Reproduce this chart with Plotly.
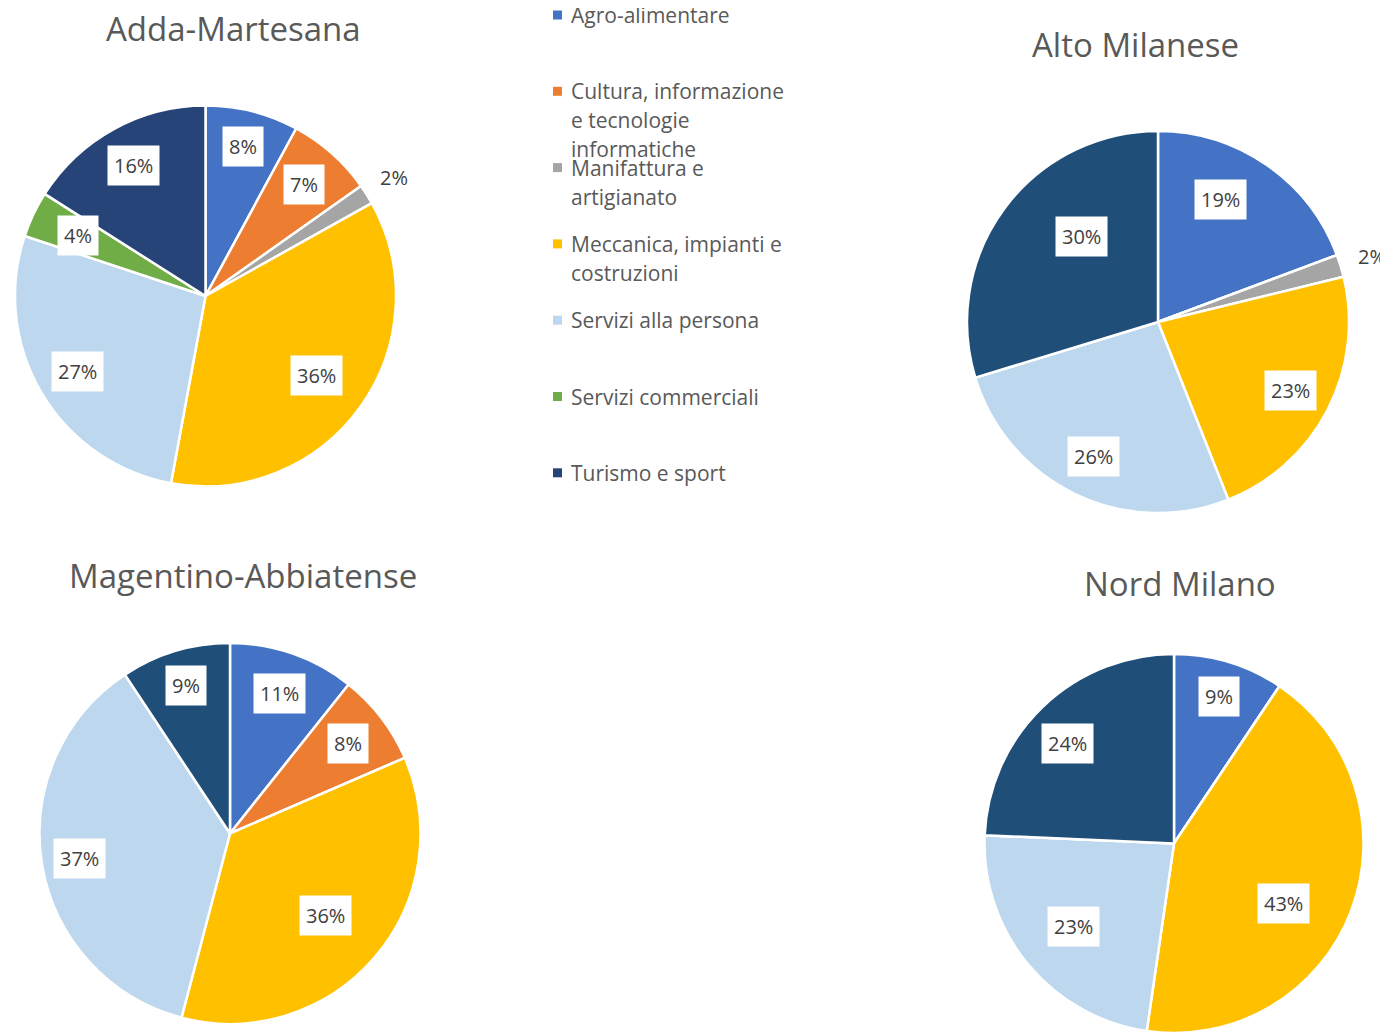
import math

import plotly.graph_objects as go

# the page body has an 8px margin; the figure is sized to fit inside the window
OFF = 8
W, H = 1388 - OFF, 1033 - OFF
FONT = "Open Sans, Noto Sans, sans-serif"
TEXT = "#595959"
LABEL = "#404040"

SECTORS = [
    "Agro-alimentare",
    "Cultura, informazione e tecnologie informatiche",
    "Manifattura e artigianato",
    "Meccanica, impianti e costruzioni",
    "Servizi alla persona",
    "Servizi commerciali",
    "Turismo e sport",
]
LEGEND_LINES = [
    ["Agro-alimentare"],
    ["Cultura, informazione", "e tecnologie", "informatiche"],
    ["Manifattura e", "artigianato"],
    ["Meccanica, impianti e", "costruzioni"],
    ["Servizi alla persona"],
    ["Servizi commerciali"],
    ["Turismo e sport"],
]
COLORS = ["#4472C4", "#ED7D31", "#A5A5A5", "#FFC000", "#BDD7EE", "#70AD47", "#264478"]
COLORS_DARK = ["#4472C4", "#ED7D31", "#A5A5A5", "#FFC000", "#BDD7EE", "#70AD47", "#1F4E79"]

# shares (%) per area, same order as SECTORS
ADDA = [7.9, 7.3, 1.7, 36.0, 27.2, 3.9, 16.0]
ALTO = [19.3, 0, 1.9, 22.8, 26.3, 0, 29.7]
MAGENTINO = [10.7, 7.8, 0, 35.6, 36.6, 0, 9.3]
NORD = [9.4, 0, 0, 42.9, 23.4, 0, 24.3]

# name, values, colors, pie centre (px), radius (px), title centre (px)
PIES = [
    ("Adda-Martesana", ADDA, COLORS, (205.5, 296), 190.5, (233, 28)),
    ("Alto Milanese", ALTO, COLORS_DARK, (1158, 322), 191, (1135, 44)),
    ("Magentino-Abbiatense", MAGENTINO, COLORS_DARK, (230, 833.5), 190.5, (243, 575)),
    ("Nord Milano", NORD, COLORS_DARK, (1174, 843.5), 189.5, (1180, 583)),
]

# label placement (fraction of radius, angle shift in degrees), best-fit style
LABEL_PLACE = {
    ("Adda-Martesana", "Agro-alimentare"): (0.81, 0),
    ("Adda-Martesana", "Meccanica, impianti e costruzioni"): (0.72, 0),
    ("Adda-Martesana", "Servizi commerciali"): (0.74, 0),
    ("Alto Milanese", "Agro-alimentare"): (0.72, -7.7),
    ("Alto Milanese", "Turismo e sport"): (0.60, 11.7),
    ("Magentino-Abbiatense", "Meccanica, impianti e costruzioni"): (0.66, 0),
    ("Magentino-Abbiatense", "Servizi alla persona"): (0.80, 0),
    ("Magentino-Abbiatense", "Turismo e sport"): (0.81, 0),
    ("Nord Milano", "Agro-alimentare"): (0.81, 0),
    ("Nord Milano", "Meccanica, impianti e costruzioni"): (0.66, 7.7),
    ("Nord Milano", "Servizi alla persona"): (0.69, 0),
    ("Nord Milano", "Turismo e sport"): (0.77, -3),
}


def px_x(x):
    return min(max((x - OFF) / W, 0), 1)


def px_y(y):
    return min(max(1 - (y - OFF) / H, 0), 1)


fig = go.Figure()
annotations = []

for name, values, colors, (cx, cy), r, (tx, ty) in PIES:
    fig.add_trace(
        go.Pie(
            labels=SECTORS,
            values=values,
            name=name,
            sort=False,
            direction="clockwise",
            rotation=0,
            marker=dict(colors=colors, line=dict(color="white", width=2.5)),
            textinfo="none",
            hoverinfo="label+percent",
            showlegend=False,
            domain=dict(x=[px_x(cx - r), px_x(cx + r)], y=[px_y(cy + r), px_y(cy - r)]),
        )
    )
    annotations.append(
        dict(
            x=px_x(tx), y=px_y(ty), xref="paper", yref="paper", text=name, showarrow=False,
            font=dict(family=FONT, size=33, color=TEXT), xanchor="center", yanchor="middle",
        )
    )
    total = sum(values)
    cum = 0.0
    for sector, v in zip(SECTORS, values):
        if v <= 0:
            continue
        mid = (cum + v / 2) / total
        cum += v
        share = v / total * 100
        outside = share < 3
        if outside:
            k, shift = 1.17, 0
        else:
            k, shift = LABEL_PLACE.get((name, sector), (0.78, 0))
        ang = 2 * math.pi * mid + math.radians(shift)
        lx = cx + r * k * math.sin(ang)
        ly = cy - r * k * math.cos(ang)
        annotations.append(
            dict(
                x=px_x(lx), y=px_y(ly), xref="paper", yref="paper", text=f"{share:.0f}%",
                showarrow=False, font=dict(family=FONT, size=20, color=LABEL),
                bgcolor=None if outside else "white", borderpad=6,
                xanchor="center", yanchor="middle",
            )
        )

# legend drawn as a text column
shapes = []
leg_x, leg_y0, leg_step, line_h = 553, 15, 76.3, 29
for i, lines in enumerate(LEGEND_LINES):
    y0 = leg_y0 + i * leg_step
    shapes.append(
        dict(
            type="rect", xref="paper", yref="paper",
            x0=px_x(leg_x), x1=px_x(leg_x + 9), y0=px_y(y0 + 4.5), y1=px_y(y0 - 4.5),
            fillcolor=COLORS[i], line=dict(width=0),
        )
    )
    for j, line in enumerate(lines):
        annotations.append(
            dict(
                x=px_x(leg_x + 16), y=px_y(y0 + j * line_h), xref="paper", yref="paper",
                text=line, showarrow=False, font=dict(family=FONT, size=21, color=TEXT),
                xanchor="left", yanchor="middle",
            )
        )

fig.update_layout(
    width=W,
    height=H,
    margin=dict(l=0, r=0, t=0, b=0),
    paper_bgcolor="white",
    plot_bgcolor="white",
    font=dict(family=FONT, color=TEXT),
    annotations=annotations,
    shapes=shapes,
)

fig.write_html("out.html")
